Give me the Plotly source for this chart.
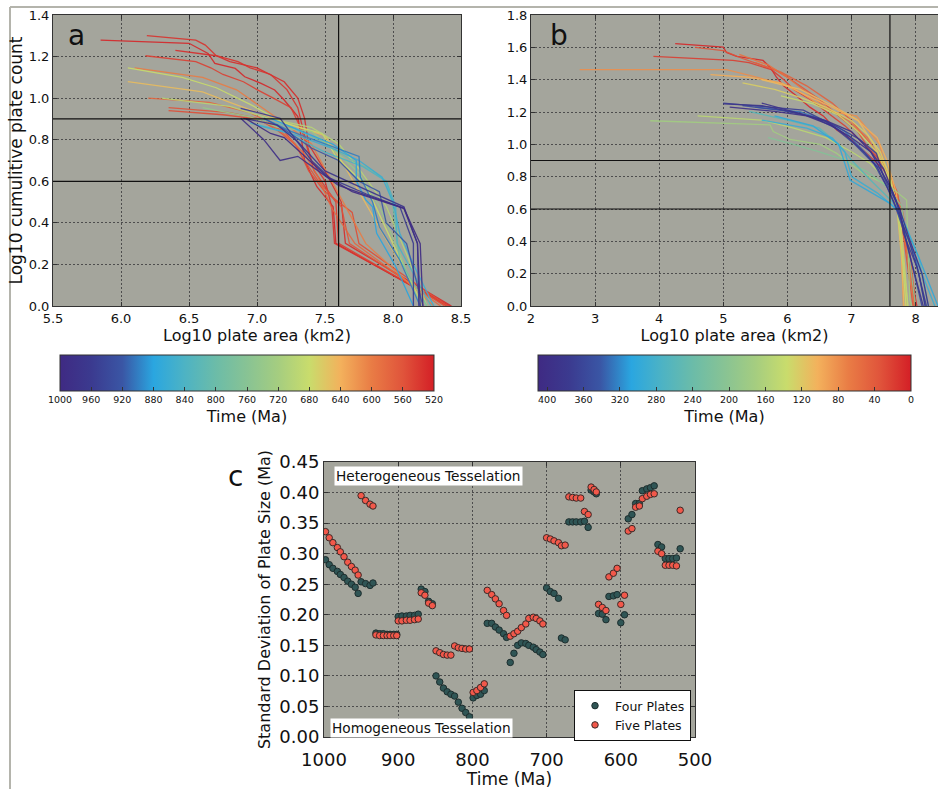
import plotly.graph_objects as go
from plotly.colors import sample_colorscale

W, H = 938, 789

# ---- colour map used for the time colouring (purple -> cyan -> green -> orange -> red)
cmap = [[0.0, "#3f2a83"], [0.083, "#3b3a8f"], [0.167, "#3a56a5"], [0.25, "#2aa6e0"],
        [0.333, "#4db3c4"], [0.417, "#6cbca8"], [0.5, "#88c394"], [0.583, "#a5cd80"],
        [0.667, "#c9dc6c"], [0.75, "#f3b15c"], [0.833, "#e97c45"], [0.917, "#e0543b"],
        [1.0, "#d41f26"]]

# ---- panel a: cumulative plate count curves, 1000-520 Ma
a_times = [525, 530, 535, 545, 555, 560, 580, 600, 650, 680, 700, 740, 800, 840, 860, 880, 900,
           920, 960, 975, 990, 1000]
a_x = [
    [5.85, 6.50, 6.64, 6.69, 6.84, 6.91, 7.03, 7.13, 7.20, 7.30, 7.32, 7.35, 7.44, 7.56, 7.58, 8.40],
    [6.40, 6.70, 6.80, 7.00, 7.20, 7.30, 7.35, 7.38, 7.50, 7.62, 7.65, 8.43],
    [6.19, 6.55, 6.62, 6.70, 6.86, 6.95, 7.10, 7.22, 7.30, 7.34, 7.40, 7.50, 7.55, 7.57, 8.42],
    [6.18, 6.55, 6.66, 6.75, 6.90, 7.00, 7.12, 7.25, 7.33, 7.36, 7.42, 7.58, 7.60, 8.40],
    [6.35, 6.75, 7.00, 7.20, 7.30, 7.38, 7.50, 7.70, 7.75, 8.40],
    [6.35, 6.80, 7.00, 7.15, 7.28, 7.35, 7.45, 7.62, 7.68, 8.38],
    [6.20, 6.65, 6.95, 7.10, 7.25, 7.35, 7.45, 7.55, 7.72, 8.35],
    [6.10, 6.60, 6.85, 7.05, 7.20, 7.40, 7.50, 7.62, 7.80, 8.30],
    [6.05, 6.60, 6.80, 7.05, 7.30, 7.50, 7.62, 7.75, 7.95, 8.25],
    [6.05, 6.45, 6.70, 6.95, 7.20, 7.48, 7.58, 7.80, 8.00, 8.22],
    [6.30, 6.80, 7.10, 7.40, 7.60, 7.75, 7.95, 8.10, 8.25],
    [6.60, 6.95, 7.15, 7.40, 7.55, 7.75, 7.90, 8.05, 8.20],
    [7.00, 7.25, 7.45, 7.70, 7.85, 7.95, 8.00, 8.05, 8.25],
    [6.95, 7.20, 7.50, 7.78, 7.95, 8.02, 8.03, 8.28],
    [7.00, 7.30, 7.55, 7.75, 7.92, 8.00, 8.05, 8.15, 8.30],
    [7.10, 7.30, 7.56, 7.73, 7.73, 7.80, 7.85, 7.88, 8.02, 8.15],
    [7.05, 7.25, 7.50, 7.75, 7.76, 7.85, 7.90, 8.05, 8.20],
    [7.05, 7.20, 7.40, 7.60, 7.75, 7.90, 7.95, 8.10, 8.22],
    [6.88, 7.17, 7.25, 7.40, 7.54, 7.80, 8.05, 8.15, 8.15],
    [6.90, 7.15, 7.30, 7.50, 7.80, 8.08, 8.18, 8.19],
    [6.88, 7.05, 7.17, 7.30, 7.45, 7.60, 8.08, 8.18, 8.20],
    [6.92, 7.10, 7.20, 7.35, 7.52, 7.70, 8.08, 8.20, 8.22],
]
a_y = [
    [1.279, 1.264, 1.215, 1.167, 1.143, 1.103, 1.071, 1.039, 0.991, 0.911, 0.831, 0.70, 0.574, 0.478, 0.301, 0],
    [1.230, 1.204, 1.176, 1.146, 1.079, 1.000, 0.903, 0.778, 0.650, 0.500, 0.301, 0],
    [1.301, 1.279, 1.255, 1.204, 1.176, 1.146, 1.114, 1.041, 0.954, 0.845, 0.70, 0.602, 0.477, 0.301, 0],
    [1.204, 1.176, 1.146, 1.114, 1.079, 1.041, 1.0, 0.954, 0.845, 0.778, 0.65, 0.50, 0.301, 0],
    [0.940, 0.920, 0.900, 0.840, 0.760, 0.650, 0.550, 0.450, 0.300, 0],
    [0.954, 0.930, 0.903, 0.845, 0.778, 0.699, 0.602, 0.477, 0.30, 0],
    [1.0, 0.98, 0.93, 0.88, 0.80, 0.73, 0.62, 0.47, 0.30, 0],
    [1.146, 1.10, 1.04, 0.95, 0.88, 0.78, 0.66, 0.52, 0.30, 0],
    [1.079, 1.03, 0.98, 0.92, 0.86, 0.82, 0.70, 0.55, 0.32, 0],
    [1.146, 1.10, 1.05, 0.97, 0.88, 0.83, 0.72, 0.58, 0.30, 0],
    [1.000, 0.960, 0.900, 0.860, 0.780, 0.660, 0.480, 0.250, 0],
    [0.954, 0.91, 0.86, 0.84, 0.76, 0.64, 0.48, 0.25, 0],
    [0.903, 0.86, 0.80, 0.70, 0.65, 0.60, 0.48, 0.22, 0],
    [0.88, 0.84, 0.74, 0.67, 0.60, 0.48, 0.30, 0],
    [0.870, 0.820, 0.760, 0.700, 0.620, 0.500, 0.350, 0.200, 0],
    [0.903, 0.85, 0.778, 0.70, 0.602, 0.51, 0.477, 0.35, 0.19, 0],
    [0.903, 0.840, 0.780, 0.720, 0.620, 0.500, 0.380, 0.220, 0],
    [0.903, 0.85, 0.76, 0.70, 0.60, 0.55, 0.40, 0.30, 0],
    [0.951, 0.903, 0.83, 0.70, 0.614, 0.54, 0.478, 0.301, 0],
    [0.903, 0.870, 0.790, 0.650, 0.560, 0.477, 0.301, 0],
    [0.903, 0.80, 0.70, 0.72, 0.65, 0.58, 0.47, 0.30, 0],
    [0.90, 0.83, 0.81, 0.72, 0.62, 0.55, 0.47, 0.30, 0],
]

# ---- panel b: cumulative plate count curves, 410-0 Ma
b_times = [5, 20, 35, 45, 60, 80, 100, 110, 125, 140, 150, 175, 210, 260, 290, 300, 330, 355, 370,
           385, 400, 390]
b_x = [
    [4.25, 5.00, 5.05, 5.21, 5.62, 5.73, 5.83, 5.94, 6.14, 6.35, 6.56, 6.77, 7.03, 7.24, 7.50, 7.65, 7.76, 7.91, 8.02],
    [3.91, 5.15, 5.40, 5.75, 5.95, 6.10, 6.35, 6.60, 6.90, 7.20, 7.45, 7.62, 7.70, 7.90, 7.98],
    [4.56, 5.00, 5.30, 5.80, 6.00, 6.20, 6.50, 6.80, 7.10, 7.30, 7.55, 7.72, 7.85, 7.96],
    [5.50, 5.90, 6.30, 6.70, 7.00, 7.30, 7.55, 7.70, 7.80, 7.92, 8.00],
    [5.25, 5.70, 6.00, 6.30, 6.60, 6.95, 7.25, 7.45, 7.60, 7.75, 7.88, 7.98],
    [2.76, 5.05, 5.52, 6.04, 6.66, 7.08, 7.44, 7.55, 7.76, 7.81, 7.81],
    [4.80, 5.40, 5.90, 6.30, 6.70, 7.10, 7.40, 7.55, 7.70, 7.80, 7.85],
    [5.60, 6.20, 6.70, 7.10, 7.35, 7.55, 7.70, 7.78, 7.82],
    [5.30, 5.80, 6.20, 6.60, 7.00, 7.25, 7.45, 7.62, 7.78, 7.88],
    [5.90, 6.40, 6.80, 7.10, 7.40, 7.60, 7.75, 7.85],
    [4.60, 5.60, 6.10, 6.60, 7.00, 7.30, 7.55, 7.70, 7.80, 7.88],
    [3.86, 5.73, 5.78, 6.04, 6.51, 6.77, 7.18, 7.60, 7.86, 7.91, 7.94],
    [5.70, 6.10, 6.50, 6.90, 7.25, 7.55, 7.78, 7.90, 8.00],
    [5.40, 6.00, 6.50, 6.80, 7.00, 7.30, 7.60, 7.75, 8.05, 8.20],
    [5.60, 6.30, 6.70, 6.90, 7.00, 7.40, 7.70, 7.90, 8.10, 8.30],
    [5.80, 6.40, 6.80, 6.92, 6.98, 7.60, 7.76, 8.05, 8.35],
    [5.50, 6.20, 6.60, 6.90, 7.20, 7.45, 7.65, 7.80, 8.00, 8.15],
    [5.30, 5.90, 6.40, 6.75, 7.05, 7.35, 7.55, 7.70, 7.80, 7.95, 8.10],
    [5.00, 5.73, 6.25, 6.56, 6.77, 7.13, 7.39, 7.50, 7.65, 7.76, 7.81, 8.02, 8.17],
    [5.00, 5.60, 6.20, 6.60, 6.90, 7.20, 7.40, 7.60, 7.75, 7.90, 8.05, 8.15],
    [5.10, 5.80, 6.30, 6.70, 7.00, 7.30, 7.45, 7.60, 7.75, 7.90, 8.10, 8.20],
    [5.60, 6.10, 6.60, 7.00, 7.30, 7.50, 7.70, 7.80, 7.95, 8.12],
]
b_y = [
    [1.623, 1.602, 1.568, 1.544, 1.519, 1.477, 1.415, 1.362, 1.301, 1.230, 1.176, 1.089, 1.021, 0.944, 0.845, 0.740, 0.580, 0.240, 0],
    [1.544, 1.519, 1.505, 1.462, 1.398, 1.340, 1.279, 1.204, 1.114, 1.000, 0.903, 0.778, 0.602, 0.301, 0],
    [1.600, 1.580, 1.531, 1.462, 1.415, 1.362, 1.279, 1.176, 1.079, 0.954, 0.845, 0.699, 0.301, 0],
    [1.505, 1.447, 1.362, 1.255, 1.146, 1.000, 0.845, 0.700, 0.580, 0.301, 0],
    [1.556, 1.491, 1.415, 1.322, 1.230, 1.146, 1.041, 0.903, 0.778, 0.602, 0.301, 0],
    [1.462, 1.462, 1.415, 1.362, 1.204, 1.176, 1.000, 0.820, 0.580, 0.050, 0],
    [1.431, 1.415, 1.380, 1.301, 1.230, 1.146, 1.041, 0.903, 0.699, 0.301, 0],
    [1.400, 1.340, 1.240, 1.150, 1.000, 0.850, 0.650, 0.300, 0],
    [1.380, 1.340, 1.290, 1.230, 1.146, 1.060, 0.954, 0.778, 0.477, 0],
    [1.300, 1.250, 1.180, 1.080, 0.950, 0.780, 0.550, 0],
    [1.176, 1.150, 1.100, 1.041, 0.954, 0.880, 0.778, 0.640, 0.301, 0],
    [1.146, 1.120, 1.079, 1.030, 1.000, 0.944, 0.820, 0.740, 0.656, 0.040, 0],
    [1.041, 1.000, 0.954, 0.903, 0.830, 0.740, 0.620, 0.301, 0],
    [1.204, 1.150, 1.100, 1.000, 0.903, 0.778, 0.660, 0.590, 0.301, 0],
    [1.150, 1.100, 1.040, 0.950, 0.800, 0.700, 0.600, 0.400, 0.200, 0],
    [1.176, 1.114, 1.000, 0.845, 0.778, 0.635, 0.573, 0.301, 0],
    [1.230, 1.200, 1.146, 1.079, 0.954, 0.845, 0.699, 0.500, 0.301, 0],
    [1.240, 1.210, 1.170, 1.100, 1.000, 0.880, 0.740, 0.600, 0.480, 0.250, 0],
    [1.255, 1.230, 1.212, 1.150, 1.110, 1.030, 0.944, 0.800, 0.676, 0.594, 0.449, 0.243, 0],
    [1.250, 1.240, 1.190, 1.140, 1.060, 0.950, 0.860, 0.700, 0.560, 0.400, 0.200, 0],
    [1.230, 1.204, 1.176, 1.114, 1.041, 0.954, 0.845, 0.740, 0.602, 0.420, 0.200, 0],
    [1.255, 1.200, 1.146, 1.079, 0.954, 0.850, 0.650, 0.500, 0.250, 0],
]

# ---- panel c: standard deviation of plate size through time
four_t = [998, 993, 988, 982, 978, 973, 968, 963, 958, 954,
          950, 944, 938, 934,
          930, 925, 920, 915, 911, 906, 902,
          900, 895, 889, 884, 878, 873,
          869, 864, 859, 854,
          849, 844, 839, 834, 829, 824, 819, 814, 809, 804,
          799, 794, 789, 784,
          780, 774, 769, 764, 758, 754,
          749, 744, 739, 734, 728, 724, 718, 714, 709, 705,
          700, 695, 690, 684,
          680, 675,
          670, 665, 660, 654, 649,
          644,
          640, 636, 633,
          630, 625, 620,
          616, 610, 605,
          600, 595,
          590, 585, 580, 575, 571, 565, 560, 555,
          550, 545, 540, 535, 530, 525, 520]
four_sd = [0.290, 0.282, 0.276, 0.271, 0.266, 0.261, 0.255, 0.250, 0.245, 0.235,
           0.254, 0.251, 0.248, 0.252,
           0.170, 0.169, 0.169, 0.168, 0.168, 0.168, 0.168,
           0.197, 0.198, 0.198, 0.199, 0.199, 0.201,
           0.242, 0.238, 0.222, 0.218,
           0.100, 0.090, 0.080, 0.074, 0.070, 0.067, 0.057, 0.047, 0.040, 0.033,
           0.064, 0.068, 0.070, 0.076,
           0.186, 0.186, 0.180, 0.175, 0.169, 0.163,
           0.122, 0.137, 0.150, 0.154, 0.153, 0.150, 0.147, 0.143, 0.139, 0.135,
           0.244, 0.238, 0.235, 0.227,
           0.162, 0.159,
           0.352, 0.352, 0.352, 0.352, 0.353,
           0.343,
           0.404, 0.401, 0.398,
           0.202, 0.201, 0.192,
           0.230, 0.231, 0.233,
           0.187, 0.200,
           0.357, 0.364, 0.382, 0.382, 0.403, 0.406, 0.408, 0.411,
           0.315, 0.311, 0.292, 0.292, 0.292, 0.293, 0.308]

five_t = [998, 993, 988, 982, 978, 973, 968, 963, 958, 954,
          950, 944, 938, 934,
          930, 925, 920, 915, 911, 906, 902,
          900, 895, 889, 884, 878, 873,
          869, 864, 859, 854,
          849, 844, 839, 834, 829,
          824, 819, 814, 809, 804,
          799, 794, 789, 784,
          780, 774, 769, 764, 758, 754,
          749, 744, 739, 734, 728, 724, 718, 714, 709, 705,
          700, 695, 690, 684, 680, 675,
          670, 665, 660, 654,
          649, 644,
          640, 636, 633,
          630, 625, 620,
          616, 610, 605,
          600, 595,
          590, 585, 580, 575, 571, 565, 560, 555,
          550, 545, 540, 535, 530, 525,
          520]
five_sd = [0.336, 0.326, 0.318, 0.310, 0.303, 0.295, 0.286, 0.279, 0.273, 0.265,
           0.395, 0.387, 0.381, 0.378,
           0.167, 0.166, 0.166, 0.166, 0.166, 0.166, 0.166,
           0.190, 0.190, 0.191, 0.191, 0.192, 0.193,
           0.236, 0.232, 0.219, 0.215,
           0.141, 0.138, 0.135, 0.134, 0.134,
           0.149, 0.146, 0.145, 0.144, 0.144,
           0.073, 0.076, 0.081, 0.087,
           0.240, 0.233, 0.226, 0.218, 0.207, 0.199,
           0.165, 0.169, 0.173, 0.179, 0.185, 0.194, 0.196, 0.194, 0.190, 0.185,
           0.326, 0.324, 0.321, 0.318, 0.313, 0.314,
           0.393, 0.392, 0.391, 0.391,
           0.369, 0.364,
           0.409, 0.405, 0.401,
           0.217, 0.212, 0.207,
           0.262, 0.268, 0.276,
           0.217, 0.232,
           0.337, 0.341, 0.376, 0.378, 0.390, 0.394, 0.397, 0.398,
           0.304, 0.300, 0.281, 0.281, 0.281, 0.280,
           0.371]

a_cb_ticks = [1000, 960, 920, 880, 840, 800, 760, 720, 680, 640, 600, 560, 520]
b_cb_ticks = [400, 360, 320, 280, 240, 200, 160, 120, 80, 40, 0]

FONT = "DejaVu Sans"
BG = "#a4a59c"


def px_x(p):
    return p / W


def px_y(p):
    return 1 - p / H


fig = go.Figure()

# panel a lines
for t, xs, ys in zip(a_times, a_x, a_y):
    col = sample_colorscale(cmap, [(1000 - t) / 480])[0]
    fig.add_trace(go.Scatter(x=xs, y=ys, mode="lines", line=dict(color=col, width=1.3),
                             opacity=0.9, xaxis="x", yaxis="y", showlegend=False, hoverinfo="skip"))
# panel b lines
for t, xs, ys in zip(b_times, b_x, b_y):
    col = sample_colorscale(cmap, [(410 - t) / 410])[0]
    fig.add_trace(go.Scatter(x=xs, y=ys, mode="lines", line=dict(color=col, width=1.3),
                             opacity=0.9, xaxis="x2", yaxis="y2", showlegend=False, hoverinfo="skip"))

# colorbar holders (points placed outside the visible ranges)
fig.add_trace(go.Scatter(x=[5.0], y=[-1], mode="markers", xaxis="x", yaxis="y", showlegend=False,
                         marker=dict(color=[-800], coloraxis="coloraxis")))
fig.add_trace(go.Scatter(x=[1.0], y=[-1], mode="markers", xaxis="x2", yaxis="y2", showlegend=False,
                         marker=dict(color=[-200], coloraxis="coloraxis2")))

# panel c scatter
fig.add_trace(go.Scatter(x=four_t, y=four_sd, mode="markers", name="Four Plates", xaxis="x3", yaxis="y3",
                         marker=dict(color="#2f5555", size=6.5, line=dict(color="#1e2e2e", width=1))))
fig.add_trace(go.Scatter(x=five_t, y=five_sd, mode="markers", name="Five Plates", xaxis="x3", yaxis="y3",
                         marker=dict(color="#f2584a", size=6.5, line=dict(color="#3a2a28", width=1))))

axis_common = dict(showline=True, linecolor="#333333", linewidth=1, mirror="ticks", ticks="inside",
                   ticklen=4, tickcolor="#333333", showgrid=True, gridcolor="#4d4d4d", griddash="1.5px,2.5px",
                   gridwidth=0.8, zeroline=False, automargin=False,
                   tickfont=dict(family=FONT, size=13, color="#111111"))

fig.update_layout(
    width=W, height=H, margin=dict(l=0, r=0, t=0, b=0, autoexpand=False),
    paper_bgcolor="white", plot_bgcolor=BG,
    font=dict(family=FONT, color="#111111"),
    xaxis=dict(axis_common, domain=[px_x(53), px_x(461)], range=[5.5, 8.5], dtick=0.5, tickformat=".1f",
               anchor="y", title=dict(text="Log10 plate area (km2)", font=dict(size=16), standoff=4)),
    yaxis=dict(axis_common, domain=[px_y(306), px_y(15)], range=[0, 1.4], dtick=0.2, tickformat=".1f",
               anchor="x", title=dict(text="Log10 cumulitive plate count", font=dict(size=17), standoff=1)),
    xaxis2=dict(axis_common, domain=[px_x(531), 1.0], range=[2, 8.35], dtick=1, anchor="y2",
                title=dict(text="Log10 plate area (km2)", font=dict(size=16), standoff=4)),
    yaxis2=dict(axis_common, domain=[px_y(306), px_y(15)], range=[0, 1.8], dtick=0.2, tickformat=".1f",
                anchor="x2"),
    xaxis3=dict(axis_common, domain=[px_x(324), px_x(695)], range=[1000, 500], dtick=100, anchor="y3",
                tickfont=dict(family=FONT, size=18, color="#111111"), ticklabelstandoff=6,
                title=dict(text="Time (Ma)", font=dict(size=17), standoff=2)),
    yaxis3=dict(axis_common, domain=[px_y(737), px_y(462)], range=[0, 0.45], dtick=0.05, tickformat=".2f",
                anchor="x3", tickfont=dict(family=FONT, size=18, color="#111111"),
                title=dict(text="Standard Deviation of Plate Size (Ma)", font=dict(size=16), standoff=4)),
    coloraxis=dict(colorscale=cmap, cmin=-1000, cmax=-520,
                   colorbar=dict(orientation="h", x=px_x(247), xanchor="center", y=px_y(355), yanchor="top",
                                 len=374 / W, lenmode="fraction", thickness=36, thicknessmode="pixels",
                                 xpad=0, ypad=0, outlinecolor="#333333", outlinewidth=1,
                                 tickvals=[-v for v in a_cb_ticks], ticktext=[str(v) for v in a_cb_ticks],
                                 ticks="inside", ticklen=4, tickcolor="#333333",
                                 tickfont=dict(family=FONT, size=9.5, color="#111111"),
                                 title=dict(text="Time (Ma)", side="bottom", font=dict(size=16)))),
    coloraxis2=dict(colorscale=cmap, cmin=-410, cmax=0,
                    colorbar=dict(orientation="h", x=px_x(724.5), xanchor="center", y=px_y(355), yanchor="top",
                                  len=373 / W, lenmode="fraction", thickness=36, thicknessmode="pixels",
                                  xpad=0, ypad=0, outlinecolor="#333333", outlinewidth=1,
                                  tickvals=[-v for v in b_cb_ticks], ticktext=[str(v) for v in b_cb_ticks],
                                  ticks="inside", ticklen=4, tickcolor="#333333",
                                  tickfont=dict(family=FONT, size=9.5, color="#111111"),
                                  title=dict(text="Time (Ma)", side="bottom", font=dict(size=16)))),
    legend=dict(x=px_x(574), y=px_y(690), xanchor="left", yanchor="top", bgcolor="white",
                bordercolor="#111111", borderwidth=1, font=dict(family=FONT, size=12.5),
                tracegroupgap=0, itemwidth=30),
)

# reference lines in panels a and b
for xr, yr, x0, x1 in [("x", "y", 5.5, 8.5), ("x2", "y2", 2, 8.35)]:
    for yv in [0.6, 0.9]:
        fig.add_shape(type="line", xref=xr, yref=yr, x0=x0, x1=x1, y0=yv, y1=yv,
                      line=dict(color="#111111", width=1.2))
    fig.add_shape(type="line", xref=xr, yref=yr, x0=7.6, x1=7.6, y0=0, y1=1.8 if xr == "x2" else 1.4,
                  line=dict(color="#111111", width=1.2))

# outer frame of the figure
fig.add_shape(type="line", xref="paper", yref="paper", x0=px_x(10), x1=1, y0=px_y(7), y1=px_y(7),
              line=dict(color="#b4b4ac", width=2))
fig.add_shape(type="line", xref="paper", yref="paper", x0=px_x(10), x1=px_x(10), y0=0, y1=px_y(7),
              line=dict(color="#b4b4ac", width=2))

# panel letters and text boxes
for txt, xp, yp in [("a", 66, 36), ("b", 548, 36), ("c", 226, 476)]:
    fig.add_annotation(text=txt, x=px_x(xp), y=px_y(yp), xref="paper", yref="paper", xanchor="left",
                       yanchor="middle", showarrow=False, font=dict(family=FONT, size=28, color="#111111"))
fig.add_annotation(text="Heterogeneous Tesselation", x=px_x(334), y=px_y(475.5), xref="paper", yref="paper",
                   xanchor="left", yanchor="middle", showarrow=False, bgcolor="white", borderpad=1,
                   font=dict(family=FONT, size=13.7, color="#111111"))
fig.add_annotation(text="Homogeneous Tesselation", x=px_x(330), y=px_y(727.5), xref="paper", yref="paper",
                   xanchor="left", yanchor="middle", showarrow=False, bgcolor="white", borderpad=1,
                   font=dict(family=FONT, size=13.7, color="#111111"))

fig.write_html("out.html", config={"displayModeBar": False},
               post_script="document.body.style.margin='0px';document.body.style.overflow='hidden';")
